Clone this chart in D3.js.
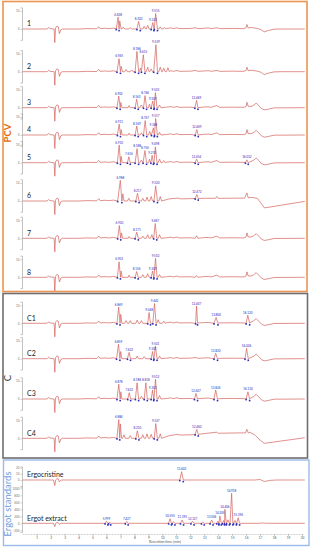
<!DOCTYPE html>
<html>
<head>
<meta charset="utf-8">
<script src="https://cdn.jsdelivr.net/npm/d3@7"></script>
<style>
  body { margin: 0; background: #fff; }
  svg { display: block; }
</style>
</head>
<body>
<svg width="313" height="550"></svg>
<script>
// Chromatogram data, time in min, signal in row units (top tick = 10)
// shared solvent front / early background  [t, v]
var solvent = [[0,0],[1.75,0],[1.85,0.8],[1.95,0.2],[2.25,0],[2.3,-7.5],[2.35,0.5],[2.45,1.6],[2.55,1.2],
  [2.63,-2.6],[2.73,-0.4],[2.85,0],[4.0,0],[4.6,0.2],[5.3,0.1],[5.45,1.3],[5.55,0.2],[5.9,0.4],[6.2,0.2],[6.5,0.5]];

// late part of the run, four shapes
var tailA = [[10.3,0.3],[10.6,0.6],[10.8,0.2],[11.05,0.7],[11.2,0.2],[12.0,0.3],[12.4,0.7],[12.55,0.2],[13.0,0.4],
  [13.3,0.6],[13.5,0.2],[13.9,0.7],[14.1,0.2],[15.0,0.3],[15.85,0.2],[16.0,0.8],[16.06,2.5],[16.14,0.6],[16.4,0.8],
  [16.8,0.3],[17.05,-0.3],[17.3,-1.6],[17.6,-0.8],[18.0,-0.1],[18.5,0],[20.2,0]];
var tailB = [[10.3,0.3],[10.6,0.6],[10.8,0.2],[11.05,0.7],[11.2,0.2],[12.0,0.3],[12.4,0.7],[12.55,0.2],[13.0,0.4],
  [13.3,0.5],[13.5,0.2],[13.9,1.2],[14.1,0.2],[15.0,0.3],[15.85,0.2],[16.0,0.8],[16.06,3.0],[16.14,0.8],[16.35,0.7],
  [16.55,1.4],[16.72,2.6],[16.9,1.2],[17.1,-0.5],[17.3,-1.2],[17.6,-0.8],[18.0,-0.1],[20.2,0]];
var tailP6 = [[10.5,1.2],[11.1,1.6],[11.3,1.2],[12.0,1.3],[13.0,1.5],[13.8,1.5],[13.9,2.5],[14.0,1.5],[15.9,1.6],
  [16.05,4.5],[16.15,1.8],[16.4,2.0],[16.8,1.5],[17.05,-1.0],[17.3,-3.8],[17.6,-3.5],[20.2,-0.2]];
var tailC4 = [[10.5,1.5],[11.1,2.2],[11.3,1.8],[12.2,2.0],[13.0,2.6],[13.9,3.4],[14.0,2.8],[15.5,3.0],[15.95,3.0],
  [16.05,5.0],[16.15,3.0],[16.3,3.2],[16.6,2.0],[17.0,-1.0],[17.3,-2.8],[20.2,0.3]];

// peaks: [start, apex, end, apex value, label, base level]
var peaks1 = [[6.7,6.83,6.9,6.6,'6.828'],[6.9,6.95,7.05,4.5],[7.1,7.2,7.3,1.0],[7.6,7.7,7.8,0.8],
  [8.18,8.3,8.42,4.2,'8.302'],[8.6,8.7,8.8,1.5],[8.85,8.95,9.05,2.0],[9.2,9.32,9.4,3.6,'9.322'],
  [9.42,9.52,9.65,8.6,'9.515'],[9.75,9.85,9.95,1.2],[10.05,10.15,10.25,0.8]];
var peaks2 = [[6.75,6.9,7.0,7.2,'6.945'],[7.0,7.05,7.15,3.0],[7.3,7.4,7.5,1.2],[7.7,7.8,7.9,1.0],
  [8.05,8.18,8.3,11.3,'8.186'],[8.35,8.43,8.5,2.0],[8.5,8.64,8.75,9.4,'8.615'],[8.85,8.95,9.05,2.5],
  [9.1,9.2,9.3,1.5],[9.38,9.54,9.65,15,'9.539'],[9.75,9.85,9.95,2.5],[10.0,10.1,10.2,2.0],[10.3,10.4,10.5,2.2]];
var peaks3 = [[6.75,6.88,6.98,6.4,'6.902'],[6.98,7.03,7.1,3.0],[7.55,7.62,7.7,1.2],[8.05,8.16,8.27,4.7,'8.163'],
  [8.4,8.5,8.6,1.5],[8.65,8.76,8.87,6.7,'8.764'],[9.0,9.08,9.15,2.0],[9.2,9.31,9.4,3.7,'9.309'],
  [9.42,9.5,9.62,8.4,'9.503'],[9.7,9.8,9.9,1.5],[12.33,12.45,12.55,4.1,'12.469']];
var peaks4 = [[6.78,6.91,7.0,6.0,'6.911'],[7.0,7.05,7.12,3.0],[7.55,7.62,7.7,1.0],[8.05,8.17,8.27,5.0,'8.169'],
  [8.4,8.5,8.6,1.2],[8.65,8.77,8.88,8.0,'8.767'],[9.0,9.1,9.18,2.0],[9.22,9.36,9.42,4.0,'9.368'],
  [9.44,9.52,9.64,9.2,'9.517'],[9.7,9.8,9.9,1.5],[12.35,12.47,12.57,3.0,'12.469']];
var peaks5 = [[6.78,6.91,7.0,9.8,'6.910'],[7.0,7.05,7.12,3.5],[7.5,7.6,7.7,3.3,'7.616'],[8.05,8.19,8.3,7.8,'8.188'],
  [8.4,8.5,8.6,1.5],[8.62,8.75,8.87,6.7,'8.750'],[9.0,9.08,9.15,2.0],[9.18,9.27,9.36,4.1,'9.270'],
  [9.4,9.5,9.62,8.8,'9.498'],[9.7,9.8,9.9,2.0],[10.0,10.1,10.2,1.2],[12.35,12.45,12.57,2.0,'12.454'],
  [15.95,16.05,16.15,1.6,'16.032']];
var peaks6 = [[6.8,6.99,7.1,11.5,'6.988'],[7.1,7.17,7.25,4.0],[7.5,7.6,7.7,1.5],[8.1,8.22,8.33,4.3,'8.217'],
  [8.5,8.6,8.7,1.5],[8.8,8.9,9.0,2.2],[9.1,9.2,9.3,2.5],[9.4,9.52,9.65,8.4,'9.520'],[9.75,9.85,9.95,2.5],
  [12.35,12.47,12.57,3.6,'12.472',1.4]];
var peaks7 = [[6.8,6.92,7.02,7.1,'6.920'],[7.02,7.08,7.15,3.0],[7.55,7.62,7.7,1.0],[8.05,8.17,8.28,3.4,'8.171'],
  [8.5,8.6,8.7,1.2],[8.85,8.95,9.05,2.0],[9.15,9.25,9.32,2.0],[9.38,9.49,9.6,8.2,'9.487'],[9.7,9.8,9.9,2.0],
  [12.35,12.45,12.55,1.4]];
var peaks8 = [[6.78,6.9,7.0,8.6,'6.903'],[7.0,7.05,7.12,3.5],[7.55,7.62,7.7,1.2],[8.05,8.16,8.27,3.2,'8.156'],
  [8.5,8.6,8.7,1.5],[8.85,8.95,9.05,2.0],[9.2,9.3,9.38,3.5,'9.309'],[9.4,9.51,9.62,10.5,'9.510'],
  [9.7,9.8,9.9,1.5],[12.35,12.45,12.55,1.0]];
var peaksC1 = [[6.75,6.87,6.97,9.0,'6.869'],[6.97,7.02,7.1,5.0],[7.3,7.4,7.5,1.5],[7.6,7.7,7.8,1.5],
  [8.1,8.2,8.3,1.8],[8.4,8.5,8.6,1.5],[8.95,9.05,9.15,6.0,'9.048'],[9.32,9.44,9.55,11,'9.442'],
  [9.6,9.7,9.8,2.0],[10.0,10.1,10.2,1.2],[12.38,12.45,12.52,9.6,'12.447'],[13.7,13.85,13.98,3.3,'13.800'],
  [16.0,16.12,16.25,4.5,'16.120']];
var peaksC2 = [[6.72,6.86,6.96,8.0,'6.859'],[6.96,7.02,7.1,4.0],[7.5,7.62,7.72,3.5,'7.622'],[8.1,8.2,8.3,1.5],
  [8.6,8.7,8.8,1.2],[9.2,9.3,9.38,4.0,'9.301'],[9.4,9.5,9.62,7.0,'9.501'],[9.7,9.8,9.9,1.5],
  [13.7,13.82,13.95,3.0,'13.820'],[15.92,16.03,16.15,5.7,'16.026']];
var peaksC3 = [[6.75,6.88,6.98,8.2,'6.878'],[6.98,7.03,7.1,4.0],[7.52,7.63,7.73,3.5,'7.632'],
  [8.07,8.19,8.3,9.0,'8.188'],[8.4,8.5,8.6,1.5],[8.7,8.82,8.92,9.0,'8.818'],[9.2,9.3,9.38,5.0,'9.303'],
  [9.4,9.51,9.62,11,'9.512'],[9.7,9.8,9.9,2.0],[12.3,12.41,12.52,3.1,'12.407'],[13.7,13.82,13.95,5.0,'13.824'],
  [16.0,16.13,16.25,4.0,'16.130']];
var peaksC4 = [[6.75,6.88,6.95,10.4,'6.884'],[6.95,6.99,7.08,8.0],[7.15,7.25,7.35,2.0],[7.6,7.7,7.8,1.5],
  [8.1,8.21,8.32,4.2,'8.210'],[8.5,8.6,8.7,2.0],[8.8,8.9,9.0,2.5],[9.1,9.2,9.3,2.2],[9.42,9.53,9.64,8.2,'9.527'],
  [9.75,9.85,9.95,2.5],[12.35,12.46,12.57,5.0,'12.460',2.2]];

var rowNames = ['1','2','3','4','5','6','7','8','C1','C2','C3','C4'];
var rowPeaks = [peaks1,peaks2,peaks3,peaks4,peaks5,peaks6,peaks7,peaks8,peaksC1,peaksC2,peaksC3,peaksC4];
var rowTails = [tailA,tailA,tailB,tailB,tailB,tailP6,tailB,tailB,tailB,tailB,tailB,tailC4];
var rowTicks = [0, 10];

// ergot standards (own units)
var cristineBase = [[0,0],[2.2,0],[2.3,-9],[2.36,0],[2.45,2],[2.55,2],[2.62,-3],[2.75,0],[16.6,0],[17.0,0.8],
  [17.3,-2.5],[17.7,-0.6],[18.2,0],[20.2,0]];
var cristinePeaks = [[11.25,11.38,11.5,13.5,'11.402']];
var cristineTicks = [0, 10, 20];
var extractBase = [[0,0],[2.2,0],[2.3,-95],[2.36,0],[2.45,25],[2.55,20],[2.62,-30],[2.75,0],[5.8,0],[16.8,0],
  [17.2,8],[17.5,0],[20.2,0]];
var extractPeaks = [[5.9,6.0,6.1,60,'5.999'],[6.15,6.22,6.3,35],[7.35,7.45,7.55,55,'7.427'],
  [10.45,10.55,10.65,130,'10.555'],[10.7,10.8,10.9,50],[11.3,11.42,11.52,95,'11.395'],
  [12.05,12.17,12.27,60,'12.127'],[12.8,12.9,13.0,30],[13.42,13.53,13.63,95,'13.506'],[13.9,13.98,14.05,60],
  [14.05,14.12,14.22,210,'14.205'],[14.3,14.38,14.45,80],[14.45,14.48,14.58,400,'14.406'],[14.6,14.7,14.8,100],
  [14.85,14.96,15.05,857,'14.918'],[15.1,15.2,15.3,80],[15.32,15.43,15.53,160,'15.396']];
var extractTicks = [-200, 0, 200, 400, 600, 800, 1000];

// layout
var rowY = [29,71.7,107.7,135,162.7,201,238.3,277.3,323.3,358.7,399,438.3];
var unitPx = 1.8;
var lineColor = '#d2625c', markColor = '#2b2bb8';

var svg = d3.select('svg');
svg.append('rect').attr('width', 313).attr('height', 550).attr('fill', '#fff');

var x = d3.scaleLinear().domain([0, 20]).range([22.7, 302]);

// group boxes
svg.append('rect').attr('x', 3).attr('y', 1.5).attr('width', 304).attr('height', 290)
  .attr('fill', 'none').attr('stroke', '#ec9452').attr('stroke-width', 1.6);
svg.append('rect').attr('x', 3).attr('y', 293.5).attr('width', 304.5).attr('height', 164.5)
  .attr('fill', 'none').attr('stroke', '#6e6e6e').attr('stroke-width', 1.6);
svg.append('rect').attr('x', 3.5).attr('y', 460).attr('width', 305.5).attr('height', 85.5)
  .attr('fill', 'none').attr('stroke', '#9dbbe8').attr('stroke-width', 1.4);

function groupLabel(txt, cy, color, weight) {
  svg.append('text').text(txt)
    .attr('transform', 'translate(10.5,' + cy + ') rotate(-90)')
    .attr('text-anchor', 'middle')
    .attr('font-family', 'Lato, sans-serif').attr('font-size', 9.5).attr('font-weight', weight)
    .attr('fill', color);
}
groupLabel('PCV', 133, '#e36c0a', 'bold');
groupLabel('C', 378, '#333', 'normal');
groupLabel('Ergot standards', 504, '#6d9edb', 'normal');

// join background points with peak triangles
function tracePoints(base, peaks) {
  var kept = base.filter(p => !peaks.some(k => p[0] >= k[0] && p[0] <= k[2]));
  peaks.forEach(k => {
    var lvl = k[5] || 0;
    kept.push([k[0], lvl], [k[1], k[3]], [k[2], lvl]);
  });
  return kept.sort((a, b) => a[0] - b[0]);
}

function drawTrace(name, base, peaks, y, ticks, markAll) {
  var g = svg.append('g');

  // y axis
  var yAxis = d3.axisLeft(y).tickValues(ticks).tickSize(1.5).tickFormat(d3.format('d'));
  var ax = g.append('g').attr('transform', 'translate(22,0)').call(yAxis);
  ax.select('.domain').attr('stroke', '#9a9a9a').attr('stroke-width', 0.6);
  ax.selectAll('.tick line').attr('stroke', '#9a9a9a').attr('stroke-width', 0.5);
  ax.selectAll('.tick text').attr('font-size', 3).attr('fill', '#777').attr('x', -2.5)
    .attr('font-family', 'Lato, sans-serif');

  var line = d3.line().x(d => x(d[0])).y(d => y(d[1]));
  g.append('path')
    .datum(tracePoints(base, peaks))
    .attr('fill', 'none')
    .attr('stroke', lineColor)
    .attr('stroke-width', 0.7)
    .attr('stroke-linejoin', 'round')
    .attr('d', line);

  // integration markers
  var marked = peaks.filter(k => markAll || k[4]);
  marked.forEach(k => {
    var lvl = k[5] || 0;
    [[k[0], 0.6], [k[2], 1.6]].forEach(m => {
      g.append('rect').attr('x', x(m[0]) - 0.8).attr('y', y(lvl) + m[1] - 0.8)
        .attr('width', 1.6).attr('height', 1.6).attr('fill', markColor);
    });
  });

  // peak labels
  g.selectAll(null)
    .data(peaks.filter(k => k[4])).enter()
    .append('text')
    .text(k => k[4])
    .attr('x', k => x(k[1]))
    .attr('y', k => y(k[3]) - 1.5)
    .attr('text-anchor', 'middle')
    .attr('font-family', 'Lato, sans-serif')
    .attr('font-size', 3)
    .attr('fill', markColor);

  // row name
  g.append('text').text(name)
    .attr('x', 27).attr('y', y(0) - 2.8)
    .attr('font-family', 'Lato, sans-serif').attr('font-size', 7)
    .attr('fill', '#222');
}

rowNames.forEach((name, i) => {
  var y = d3.scaleLinear().domain([-6, 12]).range([rowY[i] + 6 * unitPx, rowY[i] - 12 * unitPx]);
  drawTrace(name, solvent.concat(rowTails[i]), rowPeaks[i], y, rowTicks, false);
});

var yCristine = d3.scaleLinear().domain([-10, 22]).range([480 + 10 * 0.615, 480 - 22 * 0.615]);
drawTrace('Ergocristine', cristineBase, cristinePeaks, yCristine, cristineTicks, true);

var yExtract = d3.scaleLinear().domain([-250, 1050]).range([523.3 + 250 * 0.035, 523.3 - 1050 * 0.035]);
drawTrace('Ergot extract', extractBase, extractPeaks, yExtract, extractTicks, true);

// retention time axis
var xMinor = d3.axisBottom(x).tickValues(d3.range(0, 20.01, 0.2)).tickSize(1).tickFormat('');
var xMajor = d3.axisBottom(x).tickValues(d3.range(1, 21)).tickSize(1.8).tickFormat(d3.format('d'));
var gm = svg.append('g').attr('transform', 'translate(0,534)').call(xMinor);
gm.select('.domain').attr('stroke', '#d8d8d8').attr('stroke-width', 0.5);
gm.selectAll('.tick line').attr('stroke', '#999').attr('stroke-width', 0.4);
var gx = svg.append('g').attr('transform', 'translate(0,534)').call(xMajor);
gx.select('.domain').remove();
gx.selectAll('.tick line').attr('stroke', '#888').attr('stroke-width', 0.5);
gx.selectAll('.tick text').attr('font-size', 3.2).attr('fill', '#555').attr('y', 2.6)
  .attr('font-family', 'Lato, sans-serif');

svg.append('text').text('Retention time (min)')
  .attr('x', 165).attr('y', 542.5)
  .attr('text-anchor', 'middle')
  .attr('font-family', 'Lato, sans-serif').attr('font-size', 3.6)
  .attr('fill', '#555');
</script>
</body>
</html>
